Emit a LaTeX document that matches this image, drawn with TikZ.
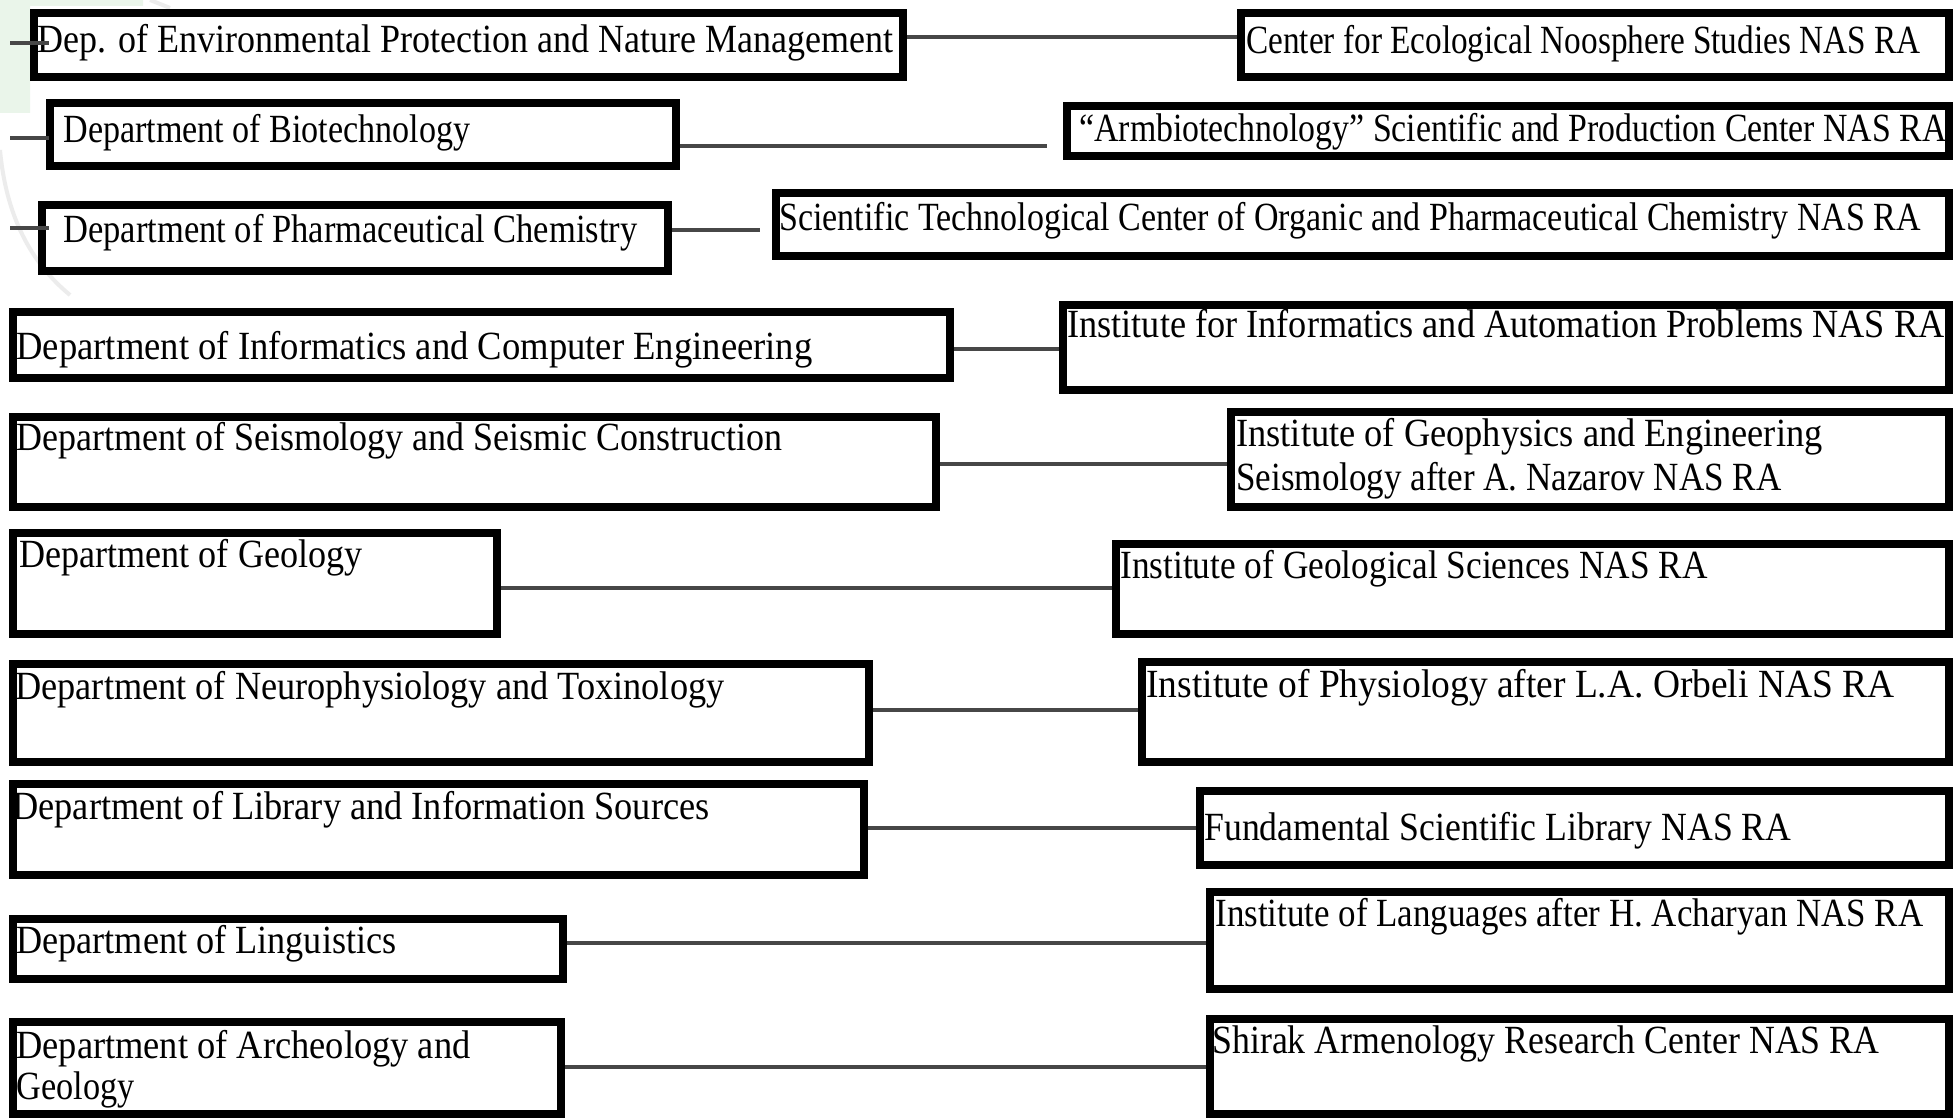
\documentclass[tikz,border=0pt]{standalone}
\usepackage{fontspec}
\setmainfont{Liberation Serif}
\usepackage{graphicx}
\usetikzlibrary{fit}
\definecolor{wmgreen}{RGB}{234,245,234}
\definecolor{wmgray}{RGB}{236,236,236}
\newcommand\fitw[2]{\resizebox{#1}{\height}{#2}}
\tikzset{
  bx/.style={draw=black, line width=4pt, inner sep=0pt, rectangle, fill=white},
  conn/.style={draw=black!72, line width=1.8pt},
  txt/.style={inner sep=0pt, anchor=base west, font=\fontsize{20}{23}\selectfont},
}
\begin{document}
\begin{tikzpicture}[x=0.5pt,y=-0.5pt]
\useasboundingbox (0,0) rectangle (1954,1118);
\fill[white] (0,0) rectangle (1954,1118);
% faint watermark traces
\fill[wmgreen] (0,0) -- (143,0) -- (143,6) -- (30,6) -- (30,113) -- (0,113) -- cycle;
\draw[wmgray, line width=2pt] (0,150) .. controls (6,215) and (30,262) .. (70,295);
\draw[wmgray, line width=2pt] (150,0) -- (170,8);

% boxes
\node[bx, fit={(34,13) (903,77)}] (L1) {};
\node[bx, fit={(1241,13) (1949,77)}] (R1) {};
\node[bx, fit={(50,103) (676,166)}] (L2) {};
\node[bx, fit={(1067,106) (1949,156)}] (R2) {};
\node[bx, fit={(42,205) (668,271)}] (L3) {};
\node[bx, fit={(776,193) (1949,256)}] (R3) {};
\node[bx, fit={(13,312) (950,378)}] (L4) {};
\node[bx, fit={(1063,305) (1949,390)}] (R4) {};
\node[bx, fit={(13,417) (936,507)}] (L5) {};
\node[bx, fit={(1231,412) (1949,507)}] (R5) {};
\node[bx, fit={(13,533) (497,634)}] (L6) {};
\node[bx, fit={(1116,544) (1949,634)}] (R6) {};
\node[bx, fit={(13,664) (869,762)}] (L7) {};
\node[bx, fit={(1142,662) (1949,762)}] (R7) {};
\node[bx, fit={(13,784) (864,875)}] (L8) {};
\node[bx, fit={(1200,791) (1949,865)}] (R8) {};
\node[bx, fit={(13,919) (563,979)}] (L9) {};
\node[bx, fit={(1210,892) (1949,989)}] (R9) {};
\node[bx, fit={(13,1022) (561,1114)}] (L10) {};
\node[bx, fit={(1210,1019) (1949,1114)}] (R10) {};

% connector levels
\coordinate (y1) at (0,37);
\coordinate (e2) at (1047,146);
\coordinate (e3) at (760,230);
\coordinate (y4) at (0,349);
\coordinate (y5) at (0,464);
\coordinate (y6) at (0,588);
\coordinate (y7) at (0,710);
\coordinate (y8) at (0,828);
\coordinate (y9) at (0,943);
\coordinate (y10) at (0,1067);

\draw[conn] (L1.east |- y1) -- (R1.west |- y1);
\draw[conn] (L2.east |- e2) -- (e2);
\draw[conn] (L3.east |- e3) -- (e3);
\draw[conn] (L4.east |- y4) -- (R4.west |- y4);
\draw[conn] (L5.east |- y5) -- (R5.west |- y5);
\draw[conn] (L6.east |- y6) -- (R6.west |- y6);
\draw[conn] (L7.east |- y7) -- (R7.west |- y7);
\draw[conn] (L8.east |- y8) -- (R8.west |- y8);
\draw[conn] (L9.east |- y9) -- (R9.west |- y9);
\draw[conn] (L10.east |- y10) -- (R10.west |- y10);

% texts
\node[txt] (tL1) at (37,53) {\fitw{428pt}{Dep. of Environmental Protection and Nature Management}};
\node[txt] (tR1) at (1246,54) {\fitw{337pt}{Center for Ecological Noosphere Studies NAS RA}};
\node[txt] (tL2) at (63,143) {\fitw{203.5pt}{Department of Biotechnology}};
\node[txt] (tR2) at (1079,142) {\fitw{433.5pt}{“Armbiotechnology” Scientific and Production Center NAS RA}};
\node[txt] (tL3) at (63,243) {\fitw{287pt}{Department of Pharmaceutical Chemistry}};
\node[txt] (tR3) at (779,231) {\fitw{570.5pt}{Scientific Technological Center of Organic and Pharmaceutical Chemistry NAS RA}};
\node[txt] (tL4) at (16,359) {\fitw{398pt}{Department of Informatics and Computer Engineering}};
\node[txt] (tR4) at (1067,337) {\fitw{438.5pt}{Institute for Informatics and Automation Problems NAS RA}};
\node[txt] (tL5) at (16,450) {\fitw{383pt}{Department of Seismology and Seismic Construction}};
\node[txt] (tR5a) at (1236,446) {\fitw{293pt}{Institute of Geophysics and Engineering}};
\node[txt] (tR5b) at (1236,490) {\fitw{272.5pt}{Seismology after A. Nazarov NAS RA}};
\node[txt] (tL6) at (19,567) {\fitw{171.5pt}{Department of Geology}};
\node[txt] (tR6) at (1120,578) {\fitw{293.5pt}{Institute of Geological Sciences NAS RA}};
\node[txt] (tL7) at (15,699) {\fitw{354.5pt}{Department of Neurophysiology and Toxinology}};
\node[txt] (tR7) at (1146,697) {\fitw{374pt}{Institute of Physiology after L.A. Orbeli NAS RA}};
\node[txt] (tL8) at (12,819) {\fitw{348.5pt}{Department of Library and Information Sources}};
\node[txt] (tR8) at (1204,840) {\fitw{293.5pt}{Fundamental Scientific Library NAS RA}};
\node[txt] (tL9) at (16,953) {\fitw{190pt}{Department of Linguistics}};
\node[txt] (tR9) at (1215,926) {\fitw{354pt}{Institute of Languages after H. Acharyan NAS RA}};
\node[txt] (tL10a) at (16,1058) {\fitw{227pt}{Department of Archeology and}};
\node[txt] (tL10b) at (16,1099) {\fitw{59pt}{Geology}};
\node[txt] (tR10) at (1212,1053) {\fitw{333.5pt}{Shirak Armenology Research Center NAS RA}};

% left stubs
\coordinate (s1) at (10,43);
\coordinate (s2) at (10,138);
\coordinate (s3) at (10,228);
\draw[conn] (s1) -- (L1.west |- s1) -- ++(19,0);
\draw[conn] (s2) -- (L2.west |- s2) -- ++(3,0);
\draw[conn] (s3) -- (L3.west |- s3) -- ++(11,0);
\end{tikzpicture}
\end{document}
